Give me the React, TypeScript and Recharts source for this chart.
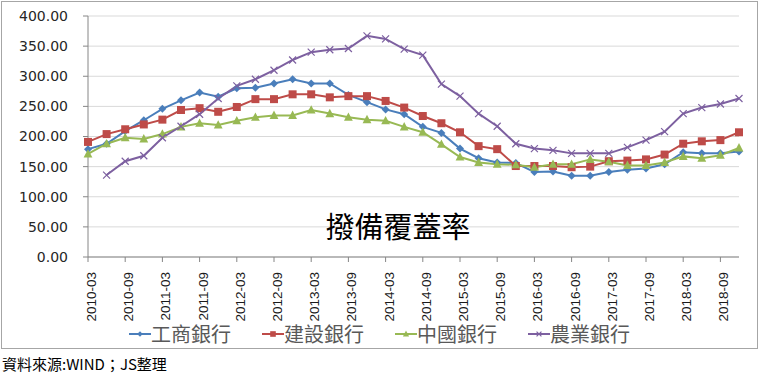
import React from 'react';
import { LineChart, Line, XAxis, YAxis, CartesianGrid, Legend } from 'recharts';

// quarterly provision coverage ratio (%), 2010-03 .. 2018-12
const quarters = [
  '2010-03', '2010-06', '2010-09', '2010-12', '2011-03', '2011-06', '2011-09', '2011-12',
  '2012-03', '2012-06', '2012-09', '2012-12', '2013-03', '2013-06', '2013-09', '2013-12',
  '2014-03', '2014-06', '2014-09', '2014-12', '2015-03', '2015-06', '2015-09', '2015-12',
  '2016-03', '2016-06', '2016-09', '2016-12', '2017-03', '2017-06', '2017-09', '2017-12',
  '2018-03', '2018-06', '2018-09', '2018-12',
];
const icbc = [179, 188, 209, 227, 246, 260, 273, 266, 280, 281, 288, 295, 288, 288, 269, 257, 245, 237, 216, 206, 180, 164, 157, 156, 141, 142, 135, 135, 141, 145, 147, 154, 174, 172, 172, 175];
const ccb = [191, 204, 212, 220, 228, 244, 247, 241, 249, 262, 262, 270, 270, 265, 267, 267, 259, 248, 234, 222, 207, 184, 179, 151, 151, 151, 149, 150, 159, 160, 162, 170, 188, 192, 194, 207];
const boc = [171, 188, 198, 196, 204, 216, 222, 219, 226, 232, 235, 235, 244, 238, 232, 228, 226, 216, 207, 187, 166, 157, 154, 153, 149, 154, 154, 162, 158, 152, 152, 157, 167, 164, 169, 181];
const abc = [null, 136, 159, 168, 198, 217, 237, 263, 284, 295, 310, 327, 340, 344, 346, 367, 362, 345, 335, 287, 267, 238, 217, 188, 180, 177, 172, 172, 172, 182, 194, 208, 238, 248, 254, 263];
const yTicks = [0, 50, 100, 150, 200, 250, 300, 350, 400];

const SERIES = [
  { key: 'icbc', name: '工商銀行', color: '#4a7ebb', marker: 'diamond' },
  { key: 'ccb', name: '建設銀行', color: '#be4b48', marker: 'square' },
  { key: 'boc', name: '中國銀行', color: '#98b954', marker: 'triangle' },
  { key: 'abc', name: '農業銀行', color: '#7d60a0', marker: 'cross' },
];

const data = quarters.map((q, i) => ({ q, icbc: icbc[i], ccb: ccb[i], boc: boc[i], abc: abc[i] }));

function Marker({ type, cx, cy, color, r = 4 }: { type: string; cx: number; cy: number; color: string; r?: number }) {
  if (type === 'diamond') {
    return <path d={`M${cx},${cy - r}L${cx + r},${cy}L${cx},${cy + r}L${cx - r},${cy}Z`} fill={color} />;
  }
  if (type === 'square') {
    return <rect x={cx - r} y={cy - r} width={2 * r} height={2 * r} fill={color} />;
  }
  if (type === 'triangle') {
    const h = r * 1.1;
    return <path d={`M${cx},${cy - h * 1.1}L${cx + h},${cy + h * 0.8}L${cx - h},${cy + h * 0.8}Z`} fill={color} />;
  }
  const c = r * 0.875;
  return (
    <path d={`M${cx - c},${cy - c}L${cx + c},${cy + c}M${cx + c},${cy - c}L${cx - c},${cy + c}`} stroke={color} strokeWidth={1.2} />
  );
}

const makeDot = (type: string, color: string) => (props: any) => {
  const { cx, cy, index, value } = props;
  if (value == null || cx == null || cy == null) return <g key={`e-${index}`} />;
  return (
    <g key={`d-${index}`}>
      <Marker type={type} cx={cx} cy={cy} color={color} />
    </g>
  );
};

const XTick = ({ x, y, payload }: any) => (
  <text
    transform={`translate(${x + 8},${y + 8}) rotate(-90)`}
    textAnchor="end"
    fontSize={13.5}
    fontFamily="'Liberation Sans', Arial, sans-serif"
    fill="#1a1a1a"
  >
    {payload.value}
  </text>
);

const LegendContent = () => (
  <div style={{ display: 'flex', paddingLeft: 127, gap: 31, height: 26, alignItems: 'center' }}>
    {SERIES.map(s => (
      <div key={s.key} style={{ display: 'flex', alignItems: 'center' }}>
        <svg width={22} height={12}>
          <line x1={0} y1={6} x2={22} y2={6} stroke={s.color} strokeWidth={2} />
          <Marker type={s.marker} cx={11} cy={6} color={s.color} r={2.8} />
        </svg>
        <span style={{ fontSize: 20, color: '#595959', fontFamily: "'Noto Sans CJK TC', sans-serif", lineHeight: '26px' }}>
          {s.name}
        </span>
      </div>
    ))}
  </div>
);

export default function App() {
  return (
    <div style={{ position: 'absolute', left: 0, top: 0, width: 761, height: 375, background: '#fff' }}>
      <div style={{ position: 'absolute', left: 1, top: 1, width: 755, height: 346, border: '1px solid #a6a6a6' }}>
        <LineChart width={755} height={346} data={data} margin={{ top: 14, right: 18, left: 0, bottom: 1 }}>
          <CartesianGrid vertical={false} stroke="#d9d9d9" strokeWidth={1} />
          <XAxis
            dataKey="q"
            interval={1}
            height={64}
            tick={<XTick />}
            tickSize={5}
            axisLine={{ stroke: '#868686' }}
            tickLine={{ stroke: '#868686' }}
          />
          <YAxis
            domain={[0, 400]}
            ticks={yTicks}
            width={86}
            tickSize={5}
            tickMargin={15}
            tickFormatter={(v: number) => v.toFixed(2)}
            tick={{ fontSize: 14, fill: '#262626', fontFamily: "'DejaVu Sans', Verdana, sans-serif" }}
            axisLine={{ stroke: '#868686' }}
            tickLine={{ stroke: '#868686' }}
          />
          <Legend verticalAlign="bottom" content={<LegendContent />} wrapperStyle={{ left: 0, width: 755 }} />
          {SERIES.map(s => (
            <Line
              key={s.key}
              dataKey={s.key}
              name={s.name}
              stroke={s.color}
              strokeWidth={2}
              dot={makeDot(s.marker, s.color)}
              activeDot={false}
              isAnimationActive={false}
            />
          ))}
        </LineChart>
        <div
          style={{
            position: 'absolute', left: 320, top: 208, width: 152, textAlign: 'center',
            fontSize: 29, lineHeight: '31px', color: '#000', fontFamily: "'Noto Sans CJK TC', sans-serif",
          }}
        >
          撥備覆蓋率
        </div>
      </div>
      <div
        style={{
          position: 'absolute', left: 2, top: 355, fontSize: 15, lineHeight: '18px', color: '#000',
          fontFamily: "'Noto Sans CJK TC', sans-serif",
        }}
      >
        資料來源:WIND；JS整理
      </div>
    </div>
  );
}
